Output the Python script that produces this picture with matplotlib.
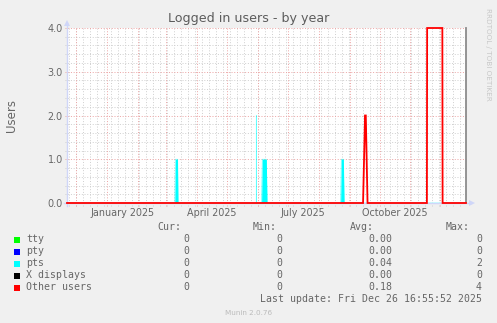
import matplotlib
matplotlib.use('Agg')
import matplotlib.pyplot as plt
import matplotlib.dates as mdates
from matplotlib.patches import Rectangle
from datetime import datetime, timedelta
import numpy as np

# ---------------- data ----------------
title = "Logged in users - by year"
y_label = "Users"
end_time = datetime(2025, 12, 26, 16, 55, 52)
start_time = end_time - timedelta(days=400)

zero_times = ['2024-11-21 16:55', '2025-12-26 16:55']
tty_values = [0, 0]
pty_values = [0, 0]
xdisp_values = [0, 0]

pts_times = ['2024-11-21 16:55',
             '2025-03-09 18:00', '2025-03-10 12:00', '2025-03-12 12:00', '2025-03-13 00:00',
             '2025-05-30 11:00', '2025-05-30 12:00', '2025-05-30 13:00',
             '2025-06-04 18:00', '2025-06-05 12:00', '2025-06-09 12:00', '2025-06-10 06:00',
             '2025-08-23 00:00', '2025-08-23 18:00', '2025-08-25 18:00', '2025-08-26 12:00',
             '2025-12-26 16:55']
pts_values = [0, 0, 1, 1, 0, 0, 2, 0, 0, 1, 1, 0, 0, 1, 1, 0, 0]

other_times = ['2024-11-21 16:55', '2025-09-14 12:00', '2025-09-16 12:00', '2025-09-17 06:00',
               '2025-09-19 00:00', '2025-11-17 12:00', '2025-11-17 18:00', '2025-12-03 00:00',
               '2025-12-03 06:00', '2025-12-26 16:55']
other_values = [0, 0, 2, 2, 0, 0, 4, 4, 0, 0]

xtick_dates = ['2025-01-16', '2025-04-16', '2025-07-16', '2025-10-16']
xtick_labels = ['January 2025', 'April 2025', 'July 2025', 'October 2025']
ytick_values = [0, 1, 2, 3, 4]
ytick_labels = ['0.0', '1.0', '2.0', '3.0', '4.0']

legend_names = ['tty', 'pty', 'pts', 'X displays', 'Other users']
legend_colors = ['#00FF00', '#0000FF', '#00FFFF', '#000000', '#FF0000']
cur_vals = ['0', '0', '0', '0', '0']
min_vals = ['0', '0', '0', '0', '0']
avg_vals = ['0.00', '0.00', '0.04', '0.00', '0.18']
max_vals = ['0', '0', '2', '0', '4']
last_update = "Last update: Fri Dec 26 16:55:52 2025"
footer = "Munin 2.0.76"
side_text = "RRDTOOL / TOBI OETIKER"

# ---------------- figure ----------------
W, H = 497, 323
fig = plt.figure(figsize=(W / 100, H / 100), dpi=100, facecolor='#F0F0F0')
FONT = '#666666'
AXIS = '#CFD6F8'

def fx(x):
    return x / W

def fy(y):
    return 1 - y / H

L, R, T, B = 67, 466, 28, 203
ax = fig.add_axes([fx(L), fy(B), (R - L) / W, (B - T) / H])
ax.set_facecolor('white')

def parse(ts):
    return [datetime.strptime(t, '%Y-%m-%d %H:%M') for t in ts]

ax.set_xlim(start_time, end_time)
ax.set_ylim(0, 4)

# grid
ext_x = 2.5 / (B - T)
ext_y = 2.5 / (R - L)
minor_grid = dict(color='#CFCFCF', lw=0.7, linestyle=(0, (1, 1.8)), zorder=1, clip_on=False)
major_grid = dict(color='#ECA4A4', lw=0.7, linestyle=(0, (1, 1.8)), zorder=1.5, clip_on=False)
week_days = mdates.WeekdayLocator(byweekday=mdates.SU).tick_values(start_time, end_time)
month_days = mdates.MonthLocator().tick_values(start_time, end_time)
xmin_num, xmax_num = mdates.date2num(start_time), mdates.date2num(end_time)
for d in week_days:
    if xmin_num < d < xmax_num:
        ax.axvline(d, ymin=-ext_x, ymax=1, **minor_grid)
for d in month_days:
    if xmin_num < d < xmax_num:
        ax.axvline(d, ymin=-ext_x, ymax=1, **major_grid)
for v in np.arange(0.2, 4.0, 0.2):
    if abs(v - round(v)) > 1e-6:
        ax.axhline(v, xmin=-ext_y, xmax=1, **minor_grid)
for v in ytick_values[1:]:
    ax.axhline(v, xmin=-ext_y, xmax=1, **major_grid)

# spines
for s in ['top', 'left', 'bottom']:
    ax.spines[s].set_visible(False)
ax.spines['right'].set_color('#8C8C8C')
ax.spines['right'].set_linewidth(1.3)

# zero series (thin, under the axis line)
zt = parse(zero_times)
ax.plot(zt, tty_values, color=legend_colors[0], lw=0.6, zorder=2, clip_on=False)
ax.plot(zt, pty_values, color=legend_colors[1], lw=0.6, zorder=2, clip_on=False)
pt = parse(pts_times)
ax.fill_between(pt, pts_values, 0, color=legend_colors[2], lw=0, zorder=2.2)
ax.plot(pt, pts_values, color=legend_colors[2], lw=0.5, alpha=0.6, zorder=2.3, clip_on=False)
ax.plot(zt, xdisp_values, color=legend_colors[3], lw=0.6, zorder=2.4, clip_on=False)

# axis lines and arrows
ax.plot([0, 0], [-3 / (B - T), 1 + 5 / (B - T)], transform=ax.transAxes, color=AXIS,
        lw=1.0, zorder=3, clip_on=False)
ax.plot([-3 / (R - L), 1 + 5 / (R - L)], [0, 0], transform=ax.transAxes, color=AXIS,
        lw=1.0, zorder=3, clip_on=False)
ax.plot([0], [1 + 5 / (B - T)], marker='^', markersize=4.5, color=AXIS, transform=ax.transAxes,
        clip_on=False, zorder=3, markeredgewidth=0)
ax.plot([1 + 6 / (R - L)], [0], marker='>', markersize=4.5, color=AXIS, transform=ax.transAxes,
        clip_on=False, zorder=3, markeredgewidth=0)

# other users (on top)
ot = parse(other_times)
ax.plot(ot, other_values, color=legend_colors[4], lw=1.3, zorder=4, clip_on=False,
        solid_joinstyle='miter')

# ticks
ax.set_xticks(parse([d + ' 00:00' for d in xtick_dates]))
ax.set_xticklabels(xtick_labels)
ax.set_yticks(ytick_values)
ax.set_yticklabels(ytick_labels)
ax.tick_params(axis='both', length=0, labelsize=6.9, labelcolor=FONT)
ax.tick_params(axis='x', pad=3.5)
ax.tick_params(axis='y', pad=3.0)
ax.minorticks_off()

# texts
fig.text(fx(248.5), fy(22), title, ha='center', va='baseline', fontsize=9.1, color='#5c5c5c')
fig.text(fx(11), fy(115), y_label, ha='center', va='center', rotation=90, fontsize=8.5, color=FONT)
fig.text(fx(488), fy(54), side_text, ha='center', va='center', rotation=270, fontsize=5.2,
         color='#C8C8C8')
fig.text(fx(249), fy(315), footer, ha='center', va='baseline', fontsize=5.2, color='#BBBBBB')

mono = dict(family='DejaVu Sans Mono', fontsize=7.1, color=FONT, va='baseline')
hdr_y = 230.5
fig.text(fx(181), fy(hdr_y), 'Cur:', ha='right', **mono)
fig.text(fx(277), fy(hdr_y), 'Min:', ha='right', **mono)
fig.text(fx(374), fy(hdr_y), 'Avg:', ha='right', **mono)
fig.text(fx(470), fy(hdr_y), 'Max:', ha='right', **mono)
for i, name in enumerate(legend_names):
    yb = 242.5 + 12 * i
    fig.patches.append(Rectangle((fx(14), fy(yb)), 6 / W, 6 / H, transform=fig.transFigure,
                                 facecolor=legend_colors[i], edgecolor='none'))
    fig.text(fx(26), fy(yb), name, ha='left', **mono)
    fig.text(fx(189), fy(yb), cur_vals[i], ha='right', **mono)
    fig.text(fx(282), fy(yb), min_vals[i], ha='right', **mono)
    fig.text(fx(392), fy(yb), avg_vals[i], ha='right', **mono)
    fig.text(fx(482), fy(yb), max_vals[i], ha='right', **mono)
fig.text(fx(482), fy(302), last_update, ha='right', **mono)

fig.savefig('out.png', dpi=100, facecolor=fig.get_facecolor())
